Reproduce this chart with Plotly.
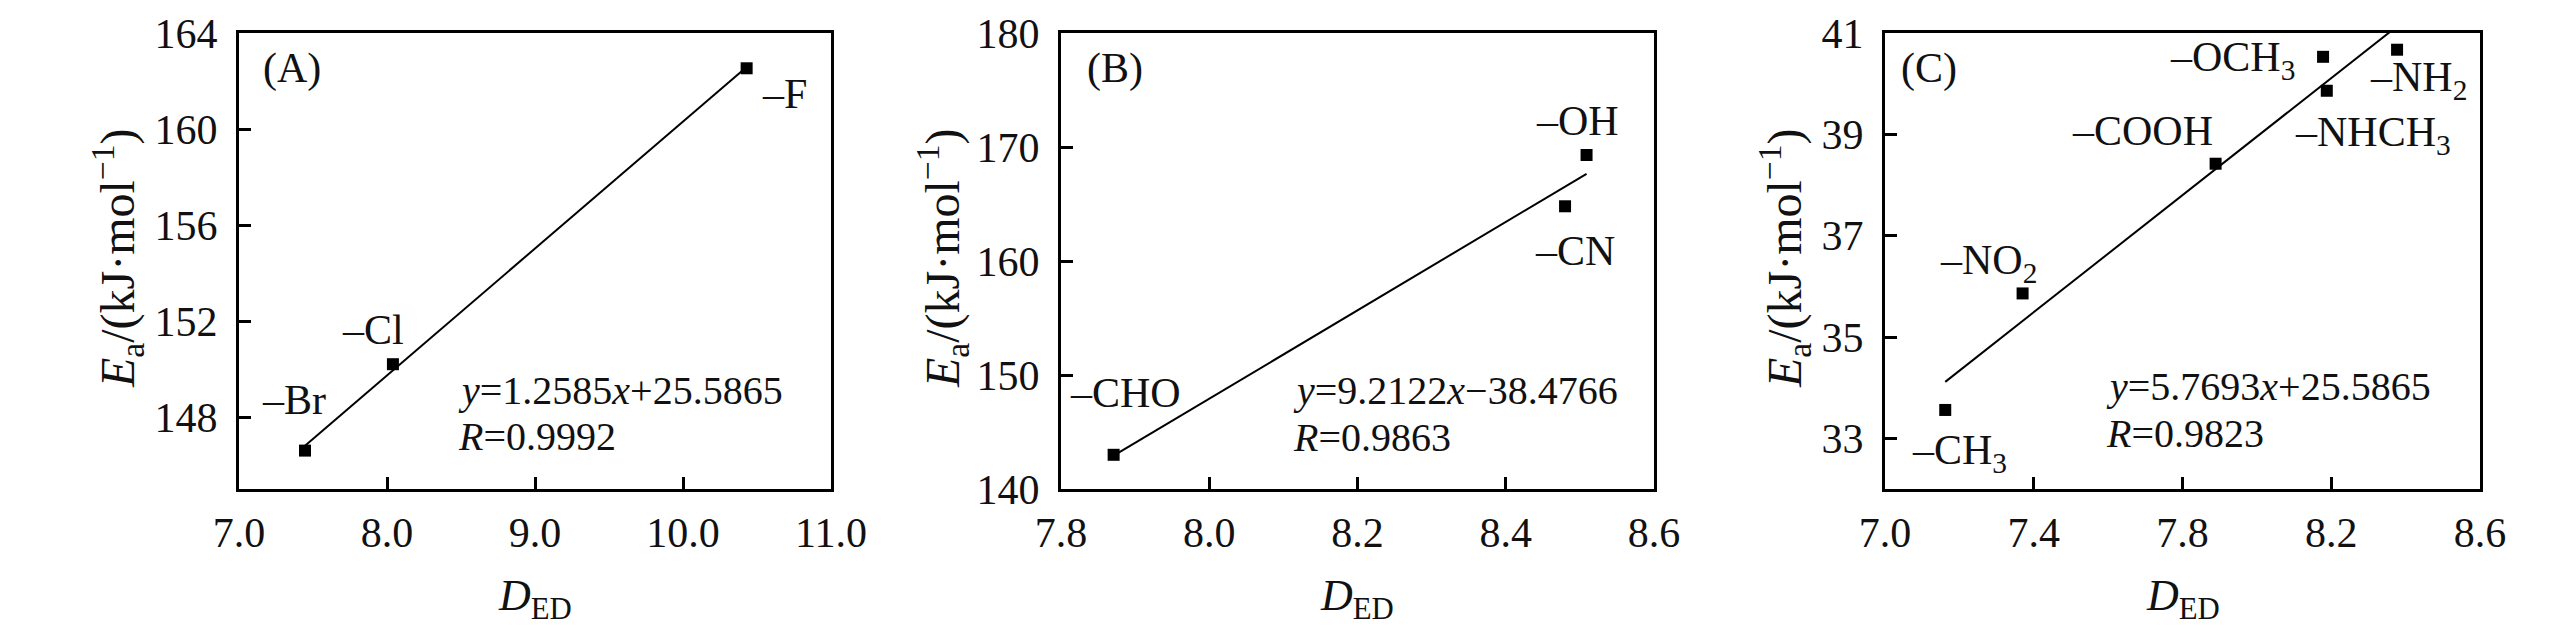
import numpy as np
import plotly.graph_objects as go

# ---------------- data ----------------
a_labels = ["–Br", "–Cl", "–F"]
a_x = [7.446, 8.04, 10.43]
a_y = [146.6, 150.2, 162.53]

b_labels = ["–CHO", "–CN", "–OH"]
b_x = [7.871, 8.480, 8.509]
b_y = [143.0, 164.8, 169.3]

c_labels = ["–CH<sub>3</sub>", "–NO<sub>2</sub>", "–COOH", "–OCH<sub>3</sub>", "–NHCH<sub>3</sub>", "–NH<sub>2</sub>"]
c_x = [7.162, 7.370, 7.889, 8.178, 8.188, 8.377]
c_y = [33.56, 35.86, 38.42, 40.53, 39.86, 40.67]

a_xticks = [7.0, 8.0, 9.0, 10.0, 11.0]
a_yticks = [148, 152, 156, 160, 164]
b_xticks = [7.8, 8.0, 8.2, 8.4, 8.6]
b_yticks = [140, 150, 160, 170, 180]
c_xticks = [7.0, 7.4, 7.8, 8.2, 8.6]
c_yticks = [33, 35, 37, 39, 41]

a_eq = ["<i>y</i>=1.2585<i>x</i>+25.5865", "<i>R</i>=0.9992"]
b_eq = ["<i>y</i>=9.2122<i>x</i>−38.4766", "<i>R</i>=0.9863"]
c_eq = ["<i>y</i>=5.7693<i>x</i>+25.5865", "<i>R</i>=0.9823"]

panel_tags = ["(A)", "(B)", "(C)"]

# ---------------- layout geometry ----------------
W, H = 2567, 630
FONT = "Liberation Serif, Times New Roman, Times, serif"
px = lambda p: p / W
py = lambda p: 1 - p / H

x_domains = [[px(231), px(823)], [px(1053), px(1646)], [px(1877), px(2472)]]
y_domain = [py(481), py(25)]

fig = go.Figure()

panels = [
    dict(x=a_x, y=a_y, labels=a_labels, xt=a_xticks, yt=a_yticks, xr=[7.0, 11.0], yr=[145, 164], eq=a_eq),
    dict(x=b_x, y=b_y, labels=b_labels, xt=b_xticks, yt=b_yticks, xr=[7.8, 8.6], yr=[140, 180], eq=b_eq),
    dict(x=c_x, y=c_y, labels=c_labels, xt=c_xticks, yt=c_yticks, xr=[7.0, 8.6], yr=[32, 41], eq=c_eq),
]

# label placement (left edge x, vertical centre y) in data units
label_pos = [
    [(7.14, 148.69), (7.68, 151.64), (10.52, 161.46)],
    [(7.810, 148.45), (8.437, 160.86), (8.438, 172.24)],
    [(7.066, 32.71), (7.143, 36.47), (7.498, 39.06), (7.762, 40.46), (8.096, 38.98), (8.298, 40.07)],
]
tag_pos = [(7.15, 162.5), (7.832, 176.9), (7.037, 40.30)]
eq_pos = [(8.467, 149.1, 147.2), (8.110, 148.6, 144.5), (7.590, 34.02, 33.09)]
ytitle_x = [110, 935, 1777]

annotations = []
for i, p in enumerate(panels):
    n = "" if i == 0 else str(i + 1)
    xa, ya = "x" + n, "y" + n
    # fitted line (least squares) over the data range
    k, b0 = np.polyfit(p["x"], p["y"], 1)
    xs = np.array([min(p["x"]), max(p["x"])])
    fig.add_trace(go.Scatter(x=xs, y=k * xs + b0, mode="lines",
                             line=dict(color="black", width=2),
                             xaxis=xa, yaxis=ya, showlegend=False, hoverinfo="skip"))
    fig.add_trace(go.Scatter(x=p["x"], y=p["y"], mode="markers",
                             marker=dict(symbol="square", size=12, color="black"),
                             xaxis=xa, yaxis=ya, showlegend=False, cliponaxis=False))
    axis_common = dict(showline=True, linecolor="black", linewidth=3, mirror=True,
                       ticks="inside", ticklen=12, tickwidth=2.5, tickcolor="black",
                       showgrid=False, zeroline=False, automargin=False,
                       tickfont=dict(family=FONT, size=42, color="#111"))
    fig.layout["xaxis" + n] = dict(domain=x_domains[i], range=p["xr"], tickvals=p["xt"],
                                   ticktext=[f"{v:.1f}" for v in p["xt"]],
                                   anchor=ya, ticklabelstandoff=5, **axis_common)
    fig.layout["yaxis" + n] = dict(domain=y_domain, range=p["yr"], tickvals=p["yt"],
                                   ticktext=[str(v) for v in p["yt"]],
                                   anchor=xa, ticklabelstandoff=10, **axis_common)
    for lab, (lx, ly) in zip(p["labels"], label_pos[i]):
        annotations.append(dict(x=lx, y=ly, xref=xa, yref=ya, text=lab, showarrow=False,
                                xanchor="left", yanchor="middle",
                                font=dict(family=FONT, size=42, color="#111")))
    tx, ty = tag_pos[i]
    annotations.append(dict(x=tx, y=ty, xref=xa, yref=ya, text=panel_tags[i], showarrow=False,
                            xanchor="left", yanchor="middle",
                            font=dict(family=FONT, size=42, color="#111")))
    ex, ey1, ey2 = eq_pos[i]
    for txt, yy in zip(p["eq"], [ey1, ey2]):
        annotations.append(dict(x=ex, y=yy, xref=xa, yref=ya, text=txt, showarrow=False,
                                xanchor="left", yanchor="middle",
                                font=dict(family=FONT, size=40, color="#111")))
    # axis titles
    xc = (x_domains[i][0] + x_domains[i][1]) / 2
    annotations.append(dict(x=xc, y=py(590), xref="paper", yref="paper",
                            text="<i>D</i><sub>ED</sub>", showarrow=False,
                            xanchor="center", yanchor="middle",
                            font=dict(family=FONT, size=44, color="#111")))
    annotations.append(dict(x=px(ytitle_x[i]), y=py(250), xref="paper", yref="paper",
                            text="<i>E</i><sub>a</sub>/(kJ·mol<sup>−1</sup>)", showarrow=False,
                            textangle=-90, xanchor="center", yanchor="middle",
                            font=dict(family=FONT, size=48, color="#111")))

fig.update_layout(width=W, height=H, margin=dict(l=0, r=0, t=0, b=0),
                  plot_bgcolor="white", paper_bgcolor="white",
                  font=dict(family=FONT),
                  annotations=annotations, showlegend=False)

fig.write_html("out.html")
